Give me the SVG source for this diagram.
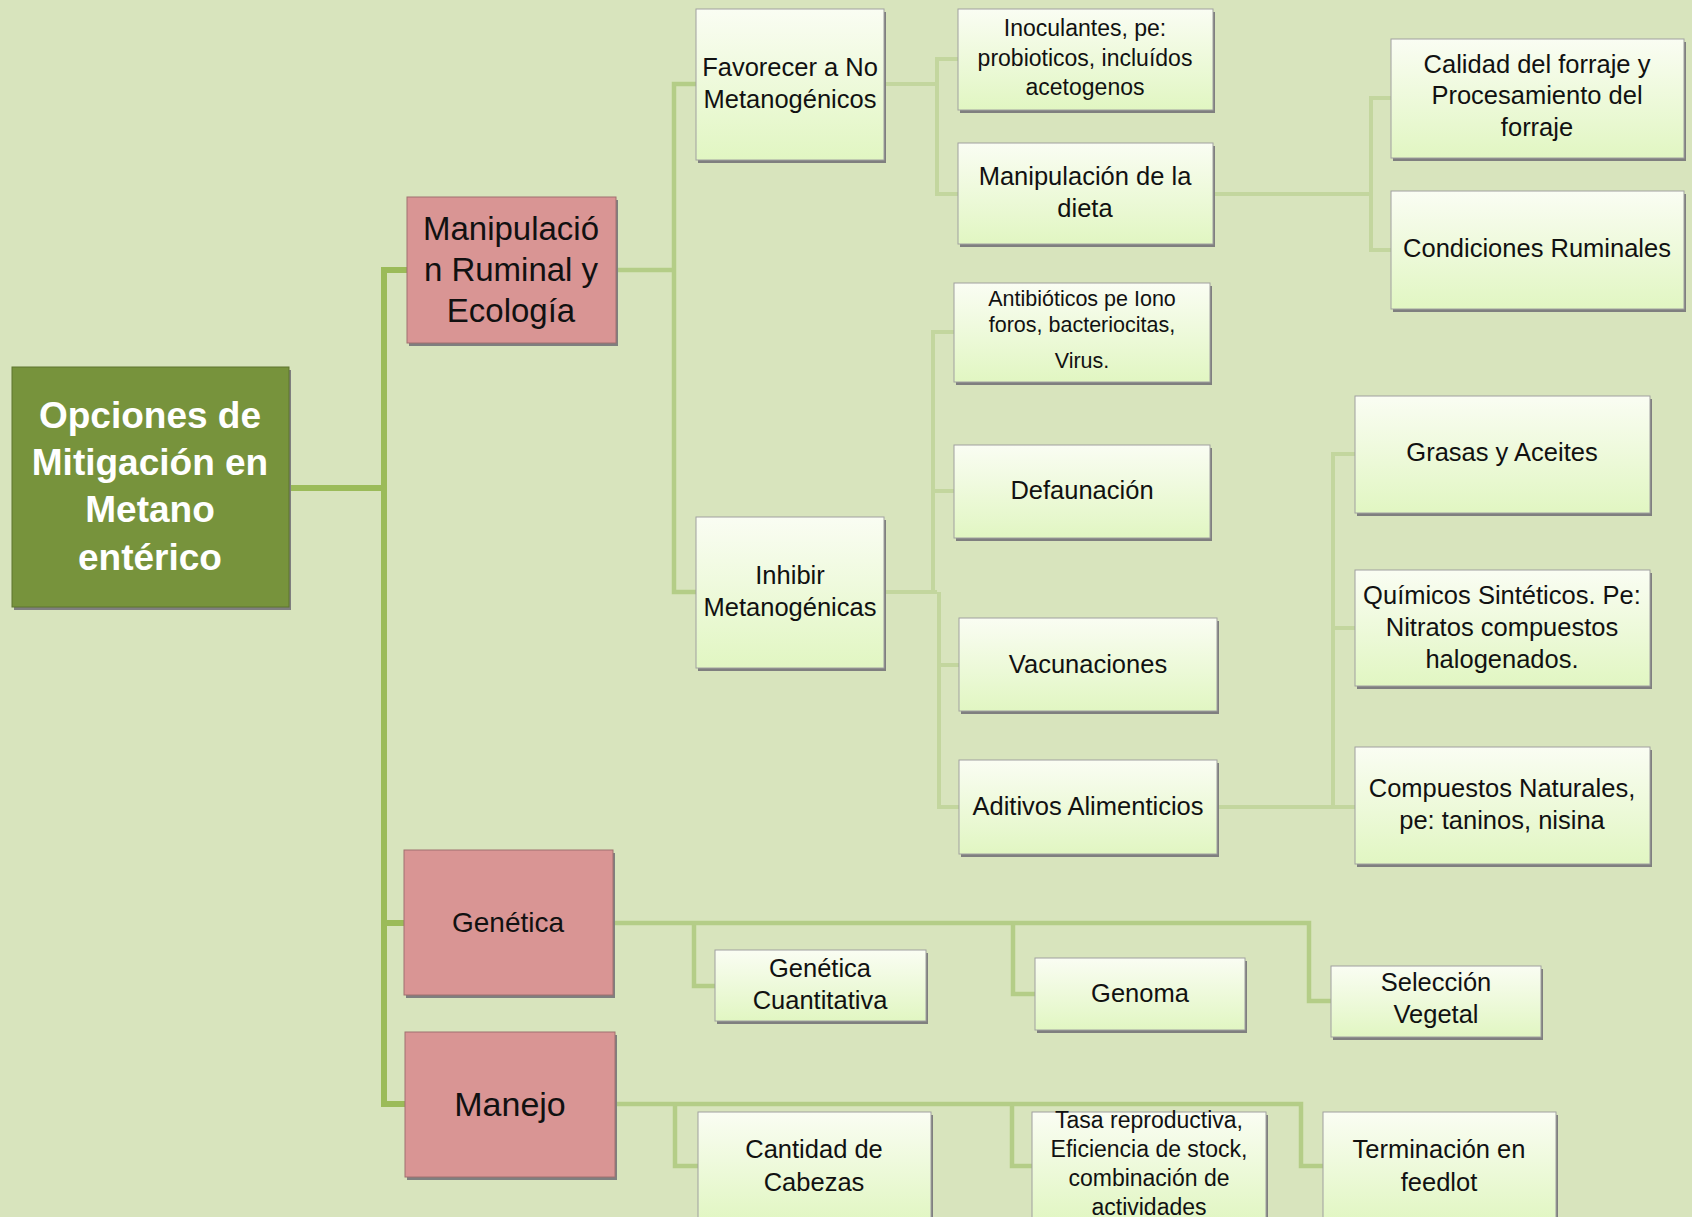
<svg xmlns="http://www.w3.org/2000/svg" width="1692" height="1217" viewBox="0 0 1692 1217">
<defs>
<linearGradient id="lg" x1="0" y1="0" x2="0" y2="1">
<stop offset="0" stop-color="#FAFDF3"/>
<stop offset="1" stop-color="#E1F6C2"/>
</linearGradient>
<style>
.sh{fill:#7F7F7F}
.bx{fill:url(#lg);stroke:#A0A0A0;stroke-width:1}
.pk{fill:#D99594;stroke:#A07070;stroke-width:1}
.rt{fill:#77933C;stroke:#5E752F;stroke-width:1}
text{font-family:"Liberation Sans",Arial,sans-serif;fill:#111;text-anchor:middle;dominant-baseline:central}
.t25{font-size:25.5px}
.t22{font-size:23px}
.t20{font-size:21.5px}
.c1{fill:none;stroke:#9BBB59;stroke-width:6}
.c2{fill:none;stroke:#B4CD87;stroke-width:4.5}
.c3{fill:none;stroke:#C3D69E;stroke-width:4}
</style>
</defs>
<rect width="1692" height="1217" fill="#D8E4BD"/>
<g id="connectors">
<path class="c1" d="M290 488 H384"/>
<path class="c1" d="M407 270 H384 V1104 H406"/>
<path class="c1" d="M384 923 H404"/>
<path class="c2" d="M616 270 H674"/>
<path class="c2" d="M696 84 H674 V592 H696"/>
<path class="c3" d="M884 84 H937"/>
<path class="c3" d="M958 59 H937 V194 H958"/>
<path class="c3" d="M1213 194 H1371"/>
<path class="c3" d="M1391 98 H1371 V250 H1391"/>
<path class="c3" d="M884 592 H937"/>
<path class="c3" d="M954 332 H933 V592"/>
<path class="c3" d="M954 491 H933"/>
<path class="c3" d="M939 592 V807 H959"/>
<path class="c3" d="M959 665 H939"/>
<path class="c3" d="M1217 807 H1333"/>
<path class="c3" d="M1355 454 H1333 V807 H1355"/>
<path class="c3" d="M1355 628 H1333"/>
<path class="c2" d="M613 923 H1309 V1001 H1331"/>
<path class="c2" d="M694 923 V986 H715"/>
<path class="c2" d="M1013 923 V994 H1035"/>
<path class="c2" d="M615 1104 H1301 V1166 H1323"/>
<path class="c2" d="M675 1104 V1166 H698"/>
<path class="c2" d="M1012 1104 V1166 H1032"/>
</g>
<g id="root">
<rect class="sh" x="14" y="370" width="277" height="240"/>
<rect class="rt" x="12" y="367" width="277" height="240"/>
<text x="150" y="415" style="font-size:37px;font-weight:bold;fill:#fff">Opciones de</text>
<text x="150" y="462" style="font-size:37px;font-weight:bold;fill:#fff">Mitigación en</text>
<text x="150" y="509" style="font-size:37px;font-weight:bold;fill:#fff">Metano</text>
<text x="150" y="557" style="font-size:37px;font-weight:bold;fill:#fff">entérico</text>
</g>
<g id="manip-ruminal">
<rect class="sh" x="409" y="200" width="209" height="146"/>
<rect class="pk" x="407" y="197" width="209" height="146"/>
<text x="511" y="228" style="font-size:33px">Manipulació</text>
<text x="511" y="269" style="font-size:33px">n Ruminal y</text>
<text x="511" y="310" style="font-size:33px">Ecología</text>
</g>
<g id="genetica">
<rect class="sh" x="406" y="853" width="209" height="145"/>
<rect class="pk" x="404" y="850" width="209" height="145"/>
<text x="508" y="922" style="font-size:28px">Genética</text>
</g>
<g id="manejo">
<rect class="sh" x="407" y="1035" width="210" height="145"/>
<rect class="pk" x="405" y="1032" width="210" height="145"/>
<text x="510" y="1104" style="font-size:34px">Manejo</text>
</g>
<g id="favorecer">
<rect class="sh" x="698" y="12" width="188" height="151"/>
<rect class="bx" x="696" y="9" width="188" height="151"/>
<text class="t25" x="790" y="67">Favorecer a No</text>
<text class="t25" x="790" y="99">Metanogénicos</text>
</g>
<g id="inhibir">
<rect class="sh" x="698" y="520" width="188" height="151"/>
<rect class="bx" x="696" y="517" width="188" height="151"/>
<text class="t25" x="790" y="575">Inhibir</text>
<text class="t25" x="790" y="607">Metanogénicas</text>
</g>
<g id="inoculantes">
<rect class="sh" x="960" y="12" width="255" height="101"/>
<rect class="bx" x="958" y="9" width="255" height="101"/>
<text class="t22" x="1085" y="28">Inoculantes, pe:</text>
<text class="t22" x="1085" y="58">probioticos, incluídos</text>
<text class="t22" x="1085" y="87">acetogenos</text>
</g>
<g id="manip-dieta">
<rect class="sh" x="960" y="146" width="255" height="101"/>
<rect class="bx" x="958" y="143" width="255" height="101"/>
<text class="t25" x="1085" y="176">Manipulación de la</text>
<text class="t25" x="1085" y="208">dieta</text>
</g>
<g id="calidad">
<rect class="sh" x="1393" y="42" width="293" height="119"/>
<rect class="bx" x="1391" y="39" width="293" height="119"/>
<text class="t25" x="1537" y="64">Calidad del forraje y</text>
<text class="t25" x="1537" y="95">Procesamiento del</text>
<text class="t25" x="1537" y="127">forraje</text>
</g>
<g id="condiciones">
<rect class="sh" x="1393" y="194" width="293" height="118"/>
<rect class="bx" x="1391" y="191" width="293" height="118"/>
<text class="t25" x="1537" y="248">Condiciones Ruminales</text>
</g>
<g id="antibioticos">
<rect class="sh" x="956" y="286" width="256" height="99"/>
<rect class="bx" x="954" y="283" width="256" height="99"/>
<text class="t20" x="1082" y="299">Antibióticos pe Iono</text>
<text class="t20" x="1082" y="325">foros, bacteriocitas,</text>
<text class="t20" x="1082" y="361">Virus.</text>
</g>
<g id="defaunacion">
<rect class="sh" x="956" y="448" width="256" height="93"/>
<rect class="bx" x="954" y="445" width="256" height="93"/>
<text class="t25" x="1082" y="490">Defaunación</text>
</g>
<g id="vacunaciones">
<rect class="sh" x="961" y="621" width="258" height="93"/>
<rect class="bx" x="959" y="618" width="258" height="93"/>
<text class="t25" x="1088" y="664">Vacunaciones</text>
</g>
<g id="aditivos">
<rect class="sh" x="961" y="763" width="258" height="94"/>
<rect class="bx" x="959" y="760" width="258" height="94"/>
<text class="t25" x="1088" y="806">Aditivos Alimenticios</text>
</g>
<g id="grasas">
<rect class="sh" x="1357" y="399" width="295" height="117"/>
<rect class="bx" x="1355" y="396" width="295" height="117"/>
<text class="t25" x="1502" y="452">Grasas y Aceites</text>
</g>
<g id="quimicos">
<rect class="sh" x="1357" y="573" width="295" height="116"/>
<rect class="bx" x="1355" y="570" width="295" height="116"/>
<text class="t25" x="1502" y="595">Químicos Sintéticos. Pe:</text>
<text class="t25" x="1502" y="627">Nitratos compuestos</text>
<text class="t25" x="1502" y="659">halogenados.</text>
</g>
<g id="compuestos">
<rect class="sh" x="1357" y="750" width="295" height="117"/>
<rect class="bx" x="1355" y="747" width="295" height="117"/>
<text class="t25" x="1502" y="788">Compuestos Naturales,</text>
<text class="t25" x="1502" y="820">pe: taninos, nisina</text>
</g>
<g id="genetica-cuantitativa">
<rect class="sh" x="717" y="953" width="211" height="71"/>
<rect class="bx" x="715" y="950" width="211" height="71"/>
<text class="t25" x="820" y="968">Genética</text>
<text class="t25" x="820" y="1000">Cuantitativa</text>
</g>
<g id="genoma">
<rect class="sh" x="1037" y="961" width="210" height="72"/>
<rect class="bx" x="1035" y="958" width="210" height="72"/>
<text class="t25" x="1140" y="993">Genoma</text>
</g>
<g id="seleccion">
<rect class="sh" x="1333" y="969" width="210" height="71"/>
<rect class="bx" x="1331" y="966" width="210" height="71"/>
<text class="t25" x="1436" y="982">Selección</text>
<text class="t25" x="1436" y="1014">Vegetal</text>
</g>
<g id="cantidad">
<rect class="sh" x="700" y="1115" width="233" height="110"/>
<rect class="bx" x="698" y="1112" width="233" height="110"/>
<text class="t25" x="814" y="1149">Cantidad de</text>
<text class="t25" x="814" y="1182">Cabezas</text>
</g>
<g id="tasa">
<rect class="sh" x="1034" y="1115" width="234" height="110"/>
<rect class="bx" x="1032" y="1112" width="234" height="110"/>
<text class="t22" x="1149" y="1120">Tasa reproductiva,</text>
<text class="t22" x="1149" y="1149">Eficiencia de stock,</text>
<text class="t22" x="1149" y="1178">combinación de</text>
<text class="t22" x="1149" y="1207">actividades</text>
</g>
<g id="terminacion">
<rect class="sh" x="1325" y="1115" width="233" height="110"/>
<rect class="bx" x="1323" y="1112" width="233" height="110"/>
<text class="t25" x="1439" y="1149">Terminación en</text>
<text class="t25" x="1439" y="1182">feedlot</text>
</g>
</svg>
